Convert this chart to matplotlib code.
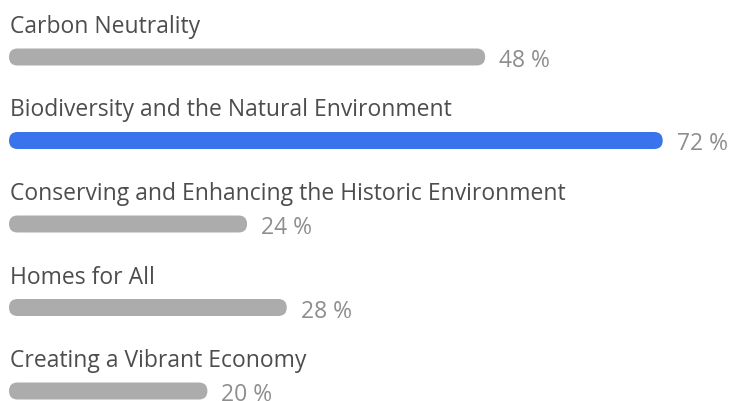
import matplotlib.pyplot as plt
from matplotlib.patches import FancyBboxPatch

# poll results
options = ['Carbon Neutrality',
           'Biodiversity and the Natural Environment',
           'Conserving and Enhancing the Historic Environment',
           'Homes for All',
           'Creating a Vibrant Economy']
percents = [48, 72, 24, 28, 20]
highlight = 1  # index of the top answer

W, H = 729, 402
px_per_pct = 9.92      # horizontal scale of the bars
max_bar_pct = 65.9     # longest bar allowed, leaves room for the label
row_px = 83.5          # vertical distance between rows
first_row_px = 58
bar_px = 17

plt.rcParams['font.family'] = ['Open Sans', 'DejaVu Sans']

fig = plt.figure(figsize=(W / 100, H / 100), dpi=100)
ax = fig.add_axes([0, 0, 1, 1])
left_px = 9
ax.set_xlim(-left_px / px_per_pct, (W - left_px) / px_per_pct)
ax.set_ylim((H - first_row_px) / row_px, -first_row_px / row_px)
ax.axis('off')

# data units per pixel, used to keep the rounded ends circular
xu = 1 / px_per_pct
yu = 1 / row_px
r = bar_px / 2

for i, (name, pct) in enumerate(zip(options, percents)):
    length = min(pct, max_bar_pct)
    color = '#3a74ec' if i == highlight else '#acacac'
    bar = FancyBboxPatch((0, i - r * yu), length, bar_px * yu,
                         boxstyle=f'round,pad=0,rounding_size={r * xu}',
                         mutation_aspect=yu / xu,
                         fc=color, ec='none')
    ax.add_patch(bar)
    ax.text(0.5 * xu, i - 25 * yu, name, fontsize=16.5, color='#4d4d4d',
            va='baseline', ha='left')
    ax.text(length + 14 * xu, i + 3 * yu, f'{pct} %', fontsize=16.5,
            color='#8e8e8e', va='center', ha='left')

fig.savefig('out.png', dpi=100)
